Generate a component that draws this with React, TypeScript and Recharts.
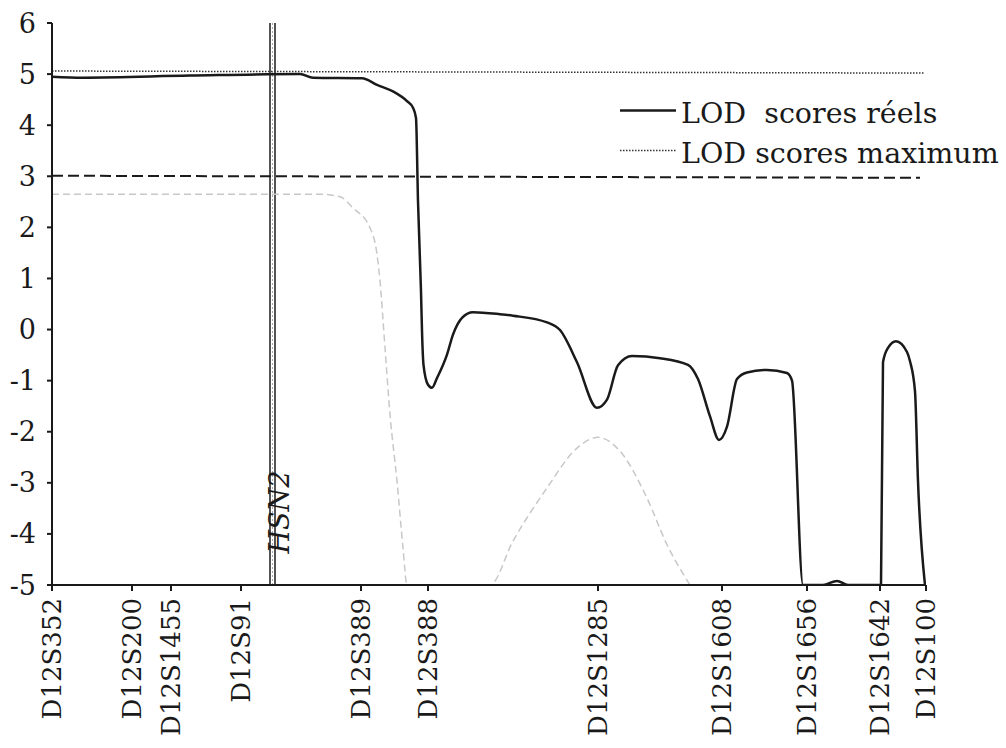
import React from 'react';
import { LineChart, Line, XAxis, YAxis, ReferenceLine, Legend } from 'recharts';

// marker positions along the chromosome (arbitrary map units)
const markerNames = ['D12S352', 'D12S200', 'D12S1455', 'D12S91', 'D12S389', 'D12S388', 'D12S1285', 'D12S1608', 'D12S1656', 'D12S1642', 'D12S100'];
const markerPos = [0, 80, 119, 189, 309, 376, 546, 670, 755, 828, 874];
const yTicks = [-5, -4, -3, -2, -1, 0, 1, 2, 3, 4, 5, 6];

// LOD scores réels
const reelsX = [0, 31, 138, 248, 261, 310, 325, 341, 355, 361, 364, 366, 369, 370, 371.5, 376, 380, 385, 395, 401, 410, 421, 448, 461, 495, 508, 525, 545, 555, 566, 580, 608, 636, 646, 658, 667, 675, 685, 695, 715, 735, 740, 751, 771, 785, 796, 829, 831, 836, 844, 855, 858, 863, 866, 873];
const reelsY = [4.95, 4.93, 4.97, 5.0, 4.93, 4.92, 4.79, 4.66, 4.47, 4.34, 4.14, 2.51, 0.75, -0.03, -0.69, -1.08, -1.14, -0.95, -0.49, -0.1, 0.23, 0.34, 0.3, 0.27, 0.14, -0.01, -0.64, -1.53, -1.37, -0.7, -0.52, -0.56, -0.69, -0.97, -1.7, -2.16, -1.9, -0.97, -0.84, -0.79, -0.85, -1.0, -5, -5, -4.92, -5, -5, -0.64, -0.36, -0.23, -0.44, -0.62, -1.21, -2.97, -5];

// light grey dashed curve
const grisX = [0, 268, 288, 301, 318, 325, 328, 333, 338, 345, 351, 355, 438, 461, 495, 525, 546, 568, 595, 615, 638];
const grisY = [2.65, 2.65, 2.6, 2.38, 1.99, 1.47, 0.95, -0.36, -1.66, -2.97, -4.27, -5, -5, -4.14, -3.1, -2.32, -2.11, -2.38, -3.3, -4.21, -5];

// LOD scores maximum
const maxX = [0, 873];
const maxY = [5.06, 5.02];

// seuil 3
const seuilX = [0, 868];
const seuilY = [3.01, 2.97];

const hsn2Pos = [218, 223];
const hsn2Mid = 220.5;

const toPoints = (xs: number[], ys: number[]) => xs.map((x, i) => ({ x, y: ys[i] }));

const reels = toPoints(reelsX, reelsY);
const gris = toPoints(grisX, grisY);
const maxima = toPoints(maxX, maxY);
const seuil = toPoints(seuilX, seuilY);

const FONT = '"DejaVu Serif", serif';
const INK = '#1a1a1a';

function MarkerTick({ x, y, payload }: any) {
  const idx = markerPos.indexOf(payload.value);
  return (
    <text
      transform={`translate(${x}, ${y + 5}) rotate(-90)`}
      textAnchor="end"
      dy="0.36em"
      fontFamily={FONT}
      fontSize={26}
      fill={INK}
    >
      {markerNames[idx]}
    </text>
  );
}

function LegendBox() {
  const row: React.CSSProperties = { display: 'flex', alignItems: 'flex-start', height: 40 };
  const txt: React.CSSProperties = {
    fontFamily: FONT,
    fontSize: 28.5,
    lineHeight: '40px',
    color: INK,
    whiteSpace: 'pre',
    marginLeft: 5,
  };
  return (
    <div>
      <div style={row}>
        <svg width={56} height={40}>
          <line x1={0} x2={56} y1={16.5} y2={16.5} stroke={INK} strokeWidth={2.5} />
        </svg>
        <span style={txt}>LOD  scores réels</span>
      </div>
      <div style={row}>
        <svg width={56} height={40}>
          <line x1={0} x2={56} y1={16.5} y2={16.5} stroke="#333" strokeWidth={1.5} strokeDasharray="1.5 1.5" />
        </svg>
        <span style={txt}>LOD scores maximum</span>
      </div>
    </div>
  );
}

export default function App() {
  return (
    <div style={{ position: 'absolute', left: 0, top: 0, width: 1006, height: 748, background: '#fff' }}>
      <LineChart width={1006} height={748} margin={{ top: 23, right: 80, bottom: 3, left: 7 }}>
        <XAxis
          type="number"
          dataKey="x"
          domain={[0, 874]}
          ticks={markerPos}
          interval={0}
          allowDataOverflow
          height={160}
          tickSize={6}
          axisLine={{ stroke: INK, strokeWidth: 2 }}
          tickLine={{ stroke: INK, strokeWidth: 2 }}
          tick={<MarkerTick />}
        />
        <YAxis
          type="number"
          domain={[-5, 6]}
          ticks={yTicks}
          interval={0}
          allowDataOverflow
          width={45}
          tickSize={5}
          tickMargin={11}
          axisLine={{ stroke: INK, strokeWidth: 2 }}
          tickLine={{ stroke: INK, strokeWidth: 2 }}
          tick={{ fontFamily: FONT, fontSize: 27, fill: INK }}
        />
        <ReferenceLine x={hsn2Mid} stroke="#aaa" strokeWidth={1} strokeDasharray="2 2" />
        <ReferenceLine x={hsn2Pos[0]} stroke={INK} strokeWidth={1.5} />
        <ReferenceLine
          x={hsn2Pos[1]}
          stroke={INK}
          strokeWidth={1.5}
          label={(p: any) => {
            const vb = p.viewBox || {};
            const cx = (vb.x ?? 0) + 4;
            const cy = 512;
            return (
              <text
                transform={`translate(${cx}, ${cy}) rotate(-90)`}
                textAnchor="middle"
                dy="0.36em"
                fontFamily={FONT}
                fontStyle="italic"
                fontSize={27}
                fill={INK}
              >
                HSN2
              </text>
            );
          }}
        />
        <Line
          data={maxima}
          dataKey="y"
          type="linear"
          stroke="#333"
          strokeWidth={1.5}
          strokeDasharray="1.5 1.5"
          dot={false}
          isAnimationActive={false}
          legendType="none"
        />
        <Line
          data={seuil}
          dataKey="y"
          type="linear"
          stroke={INK}
          strokeWidth={2}
          strokeDasharray="11 5"
          dot={false}
          isAnimationActive={false}
          legendType="none"
        />
        <Line
          data={gris}
          dataKey="y"
          type="monotone"
          stroke="#c8c8c8"
          strokeWidth={1.5}
          strokeDasharray="7 4"
          dot={false}
          isAnimationActive={false}
          legendType="none"
        />
        <Line
          data={reels}
          dataKey="y"
          type="monotone"
          stroke={INK}
          strokeWidth={2.5}
          dot={false}
          isAnimationActive={false}
          legendType="none"
        />
        <Legend
          layout="horizontal"
          verticalAlign="middle"
          align="center"
          content={() => <LegendBox />}
          wrapperStyle={{ position: 'absolute', left: 620, top: 94, width: 'auto', height: 'auto' }}
        />
      </LineChart>
    </div>
  );
}
